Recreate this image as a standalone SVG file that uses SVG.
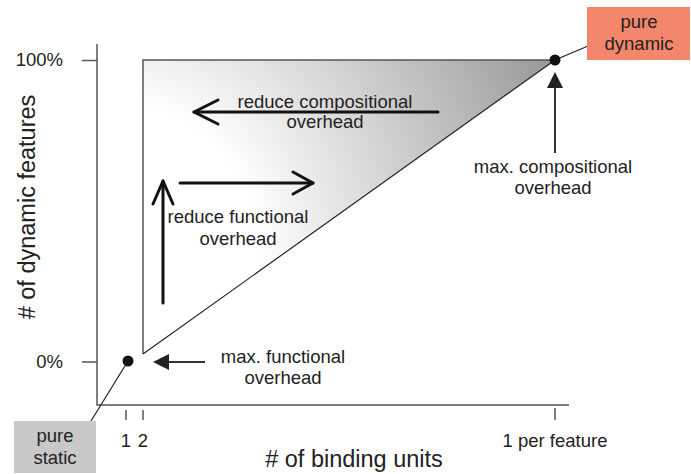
<svg xmlns="http://www.w3.org/2000/svg" width="691" height="474" viewBox="0 0 691 474">
  <defs>
    <radialGradient id="shade" gradientUnits="userSpaceOnUse" cx="110" cy="250" r="485">
      <stop offset="0.3" stop-color="#ffffff"/>
      <stop offset="1" stop-color="#979797"/>
    </radialGradient>
  </defs>
  <style>
    text { font-family: "Liberation Sans", Arial, sans-serif; fill: #222; }
    .lbl { font-size: 18.5px; text-anchor: middle; }
    .axis-title { font-size: 23.5px; text-anchor: middle; }
    .axis { stroke: #555; stroke-width: 1.5; fill: none; }
    .thin { stroke: #222; stroke-width: 1.2; fill: none; }
    .bold { stroke: #111; stroke-width: 3; fill: none; stroke-linecap: round; stroke-linejoin: round; }
    .pointer { stroke: #333; stroke-width: 2; fill: none; }
  </style>

  <!-- shaded design space -->
  <polygon points="143,60 555,60 143,354" fill="url(#shade)"/>
  <polyline points="555,60 143,60 143,354" class="axis"/>
  <line x1="143" y1="354" x2="555" y2="60" class="thin"/>

  <!-- axes -->
  <g id="axes">
    <polyline points="97,44 97,405 569,405" class="axis"/>
    <line x1="82" y1="60.5" x2="97" y2="60.5" class="axis"/>
    <line x1="82" y1="362" x2="97" y2="362" class="axis"/>
    <line x1="126" y1="410" x2="126" y2="420" class="axis"/>
    <line x1="143" y1="410" x2="143" y2="420" class="axis"/>
    <line x1="555" y1="408" x2="555" y2="420" class="axis"/>
    <text x="63" y="66" class="lbl" style="text-anchor:end">100%</text>
    <text x="63" y="368" class="lbl" style="text-anchor:end">0%</text>
    <text x="126" y="447" class="lbl">1</text>
    <text x="143" y="447" class="lbl">2</text>
    <text x="555" y="447" class="lbl">1 per feature</text>
    <text x="354" y="467" class="axis-title"># of binding units</text>
    <text transform="translate(35,207) rotate(-90)" class="axis-title"># of dynamic features</text>
  </g>

  <!-- connectors -->
  <g id="connectors">
    <line x1="128" y1="361" x2="91" y2="421" class="thin"/>
    <line x1="555" y1="60" x2="588" y2="46" class="thin"/>
    <line x1="555" y1="153" x2="555" y2="86" class="pointer"/>
    <polygon points="555,72 547,88 563,88" fill="#222"/>
    <line x1="205" y1="362" x2="167" y2="362" class="pointer"/>
    <polygon points="153,362 169,354 169,370" fill="#222"/>
    <!-- direction arrows -->
    <line x1="438" y1="112" x2="194" y2="112" class="bold"/>
    <polyline points="218,100 194,112 218,124" class="bold"/>
    <line x1="180" y1="183" x2="313" y2="183" class="bold"/>
    <polyline points="293,172 313,183 293,194" class="bold"/>
    <line x1="163" y1="303" x2="163" y2="181" class="bold"/>
    <polyline points="153,204 163,181 173,204" class="bold"/>
  </g>

  <!-- end points -->
  <g id="static-point"><circle cx="128" cy="361" r="5.5" fill="#111"/></g>
  <g id="dynamic-point"><circle cx="555" cy="60" r="5.5" fill="#111"/></g>

  <g id="pure-static">
    <rect x="14" y="421" width="82" height="52" fill="#c8c8c8"/>
    <text x="55" y="442" class="lbl">pure</text>
    <text x="55" y="464" class="lbl">static</text>
  </g>

  <g id="pure-dynamic">
    <rect x="587" y="7" width="103" height="53" fill="#f4876b"/>
    <text x="639" y="28" class="lbl">pure</text>
    <text x="639" y="50" class="lbl">dynamic</text>
  </g>

  <g id="max-compositional">
    <text x="553" y="173" class="lbl">max. compositional</text>
    <text x="553" y="194" class="lbl">overhead</text>
  </g>

  <g id="max-functional">
    <text x="283" y="363" class="lbl">max. functional</text>
    <text x="283" y="384" class="lbl">overhead</text>
  </g>

  <g id="reduce-compositional">
    <text x="325" y="108" class="lbl">reduce compositional</text>
    <text x="325" y="128" class="lbl">overhead</text>
  </g>

  <g id="reduce-functional">
    <text x="238" y="223" class="lbl">reduce functional</text>
    <text x="238" y="245" class="lbl">overhead</text>
  </g>
</svg>
